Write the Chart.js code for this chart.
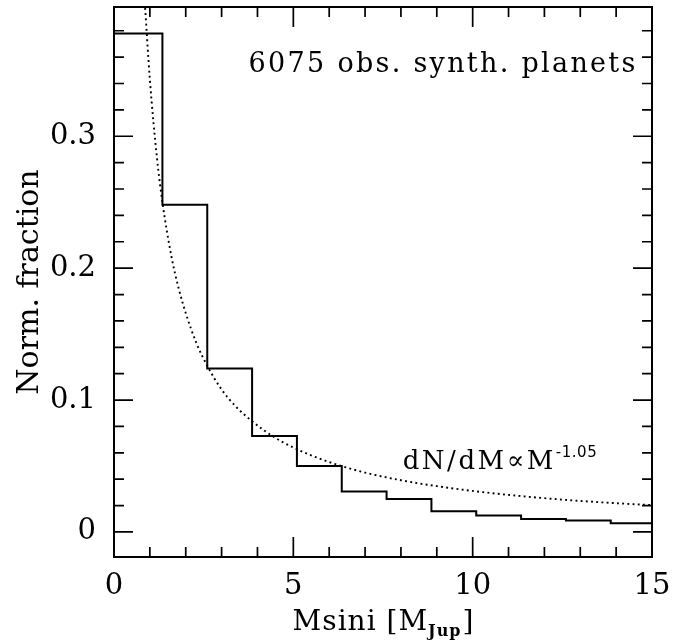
<!DOCTYPE html>
<html>
<head>
<meta charset="utf-8">
<script src="https://cdn.jsdelivr.net/npm/chart.js@4"></script>
<style>
  html, body { margin: 0; padding: 0; background: #fff; }
  #wrap { width: 687px; height: 643px; }
</style>
</head>
<body>
<div id="wrap"><canvas id="massChart"></canvas></div>
<script>
// histogram: bin edges (M_Jup) and normalised fraction per bin
const binEdges = [0, 1.35, 2.6, 3.85, 5.1, 6.35, 7.6, 8.85, 10.1, 11.35, 12.6, 13.85, 15];
const binFractions = [0.378, 0.248, 0.124, 0.0727, 0.050, 0.0307, 0.025, 0.0157, 0.0124, 0.0098, 0.0086, 0.0066];

// dotted power-law curve
const curveMass = [0.85, 1.0, 1.2, 1.35, 1.6, 1.8, 2.0, 2.3, 2.6, 3.0, 3.4, 3.85, 4.4, 5.0, 6.0, 7.0, 8.0, 9.0, 10.5, 12.0, 13.5, 15.0];
const curveFraction = [0.405, 0.343, 0.283, 0.250, 0.209, 0.185, 0.166, 0.143, 0.126, 0.108, 0.095, 0.084, 0.073, 0.064, 0.0530, 0.0450, 0.0392, 0.0347, 0.0295, 0.0256, 0.0226, 0.0203];

const xMajorTicks = [0, 5, 10, 15];
const yMajorTicks = [0, 0.1, 0.2, 0.3];
const xTickLabels = ['0', '5', '10', '15'];
const yTickLabels = ['0', '0.1', '0.2', '0.3'];

const serif = '"DejaVu Serif", "Liberation Serif", serif';

document.addEventListener('DOMContentLoaded', () => {
    const ctx = document.getElementById('massChart').getContext('2d');

    const histData = binEdges.map((x, i) => ({
        x: x,
        y: binFractions[Math.min(i, binFractions.length - 1)]
    }));
    const curveData = curveMass.map((x, i) => ({ x: x, y: curveFraction[i] }));

    // frame, inward ticks and the text labels
    const framePlugin = {
        id: 'frame',
        afterDatasetsDraw(chart) {
            const c = chart.ctx;
            const a = chart.chartArea;
            const xs = chart.scales.x;
            const ys = chart.scales.y;
            c.save();
            c.strokeStyle = '#000';
            c.lineWidth = 2;
            c.strokeRect(a.left, a.top, a.right - a.left, a.bottom - a.top);

            c.lineWidth = 1.7;
            c.beginPath();
            for (let v = 0; v <= 15; v += 1) {
                const px = xs.getPixelForValue(v);
                const len = (v % 5 === 0) ? 20 : 10;
                c.moveTo(px, a.bottom); c.lineTo(px, a.bottom - len);
                c.moveTo(px, a.top); c.lineTo(px, a.top + len);
            }
            for (let k = 0; k <= 19; k++) {
                const v = k * 0.02;
                const py = ys.getPixelForValue(v);
                if (py < a.top) continue;
                const len = (k % 5 === 0) ? 19 : 10;
                c.moveTo(a.left, py); c.lineTo(a.left + len, py);
                c.moveTo(a.right, py); c.lineTo(a.right - len, py);
            }
            c.stroke();

            c.fillStyle = '#000';
            c.textBaseline = 'alphabetic';
            c.font = '27px ' + serif;
            c.letterSpacing = '2.3px';
            c.textAlign = 'right';
            c.fillText('6075 obs. synth. planets', xs.getPixelForValue(14.6), ys.getPixelForValue(0.3485));

            // dN/dM ∝ M^-1.05
            c.textAlign = 'left';
            c.font = '26px ' + serif;
            c.letterSpacing = '2.5px';
            let px = xs.getPixelForValue(8.05);
            const py = ys.getPixelForValue(0.0475);
            const main = 'dN/dM\u221dM';
            c.fillText(main, px, py);
            px += c.measureText(main).width;
            c.letterSpacing = '0.5px';
            c.font = '15px "DejaVu Sans", sans-serif';
            c.fillText('-1.05', px, py - 12);

            // x axis title with subscript
            c.letterSpacing = '1px';
            c.font = '28px ' + serif;
            const t1 = 'Msini [M', t3 = ']';
            const w1 = c.measureText(t1).width;
            c.font = 'bold 16px ' + serif;
            const w2 = c.measureText('Jup').width;
            c.font = '28px ' + serif;
            const w3 = c.measureText(t3).width;
            let tx = (a.left + a.right) / 2 - (w1 + w2 + w3) / 2;
            const ty = 630;
            c.fillText(t1, tx, ty);
            tx += w1;
            c.font = 'bold 16px ' + serif;
            c.fillText('Jup', tx, ty + 6);
            tx += w2 + 1;
            c.font = '28px ' + serif;
            c.fillText(t3, tx, ty);
            c.restore();
        }
    };

    new Chart(ctx, {
        type: 'line',
        data: {
            datasets: [
                {
                    label: 'histogram',
                    data: histData,
                    stepped: true,
                    borderColor: '#000',
                    borderWidth: 2,
                    pointRadius: 0,
                    fill: false
                },
                {
                    label: 'power law',
                    data: curveData,
                    borderColor: '#000',
                    borderWidth: 1.9,
                    borderDash: [1.9, 3.3],
                    cubicInterpolationMode: 'monotone',
                    pointRadius: 0,
                    fill: false
                }
            ]
        },
        options: {
            responsive: true,
            maintainAspectRatio: false,
            animation: false,
            layout: { padding: { top: 7, right: 35, left: 0, bottom: 0 } },
            plugins: {
                legend: { display: false },
                tooltip: { enabled: false }
            },
            scales: {
                x: {
                    type: 'linear',
                    min: 0,
                    max: 15,
                    grid: { display: false },
                    border: { display: false },
                    afterBuildTicks: (scale) => {
                        scale.ticks = xMajorTicks.map(v => ({ value: v }));
                    },
                    afterFit: (scale) => {
                        scale.height = 86;
                        scale.paddingLeft = 0;
                        scale.paddingRight = 0;
                    },
                    ticks: {
                        color: '#000',
                        padding: 4,
                        maxRotation: 0,
                        font: { family: serif, size: 29 },
                        callback: (value) => xTickLabels[xMajorTicks.indexOf(value)]
                    }
                },
                y: {
                    type: 'linear',
                    min: -0.019,
                    max: 0.398,
                    grid: { display: false },
                    border: { display: false },
                    afterBuildTicks: (scale) => {
                        scale.ticks = yMajorTicks.map(v => ({ value: v }));
                    },
                    afterFit: (scale) => {
                        scale.width = 114;
                        scale.paddingTop = 0;
                        scale.paddingBottom = 0;
                    },
                    ticks: {
                        color: '#000',
                        padding: 10,
                        font: { family: serif, size: 29 },
                        callback: (value) => yTickLabels[yMajorTicks.indexOf(value)]
                    },
                    title: {
                        display: true,
                        text: 'Norm. fraction',
                        color: '#000',
                        padding: { top: 12, bottom: 0 },
                        font: { family: serif, size: 30 }
                    }
                }
            }
        },
        plugins: [framePlugin]
    });
});
</script>
</body>
</html>
